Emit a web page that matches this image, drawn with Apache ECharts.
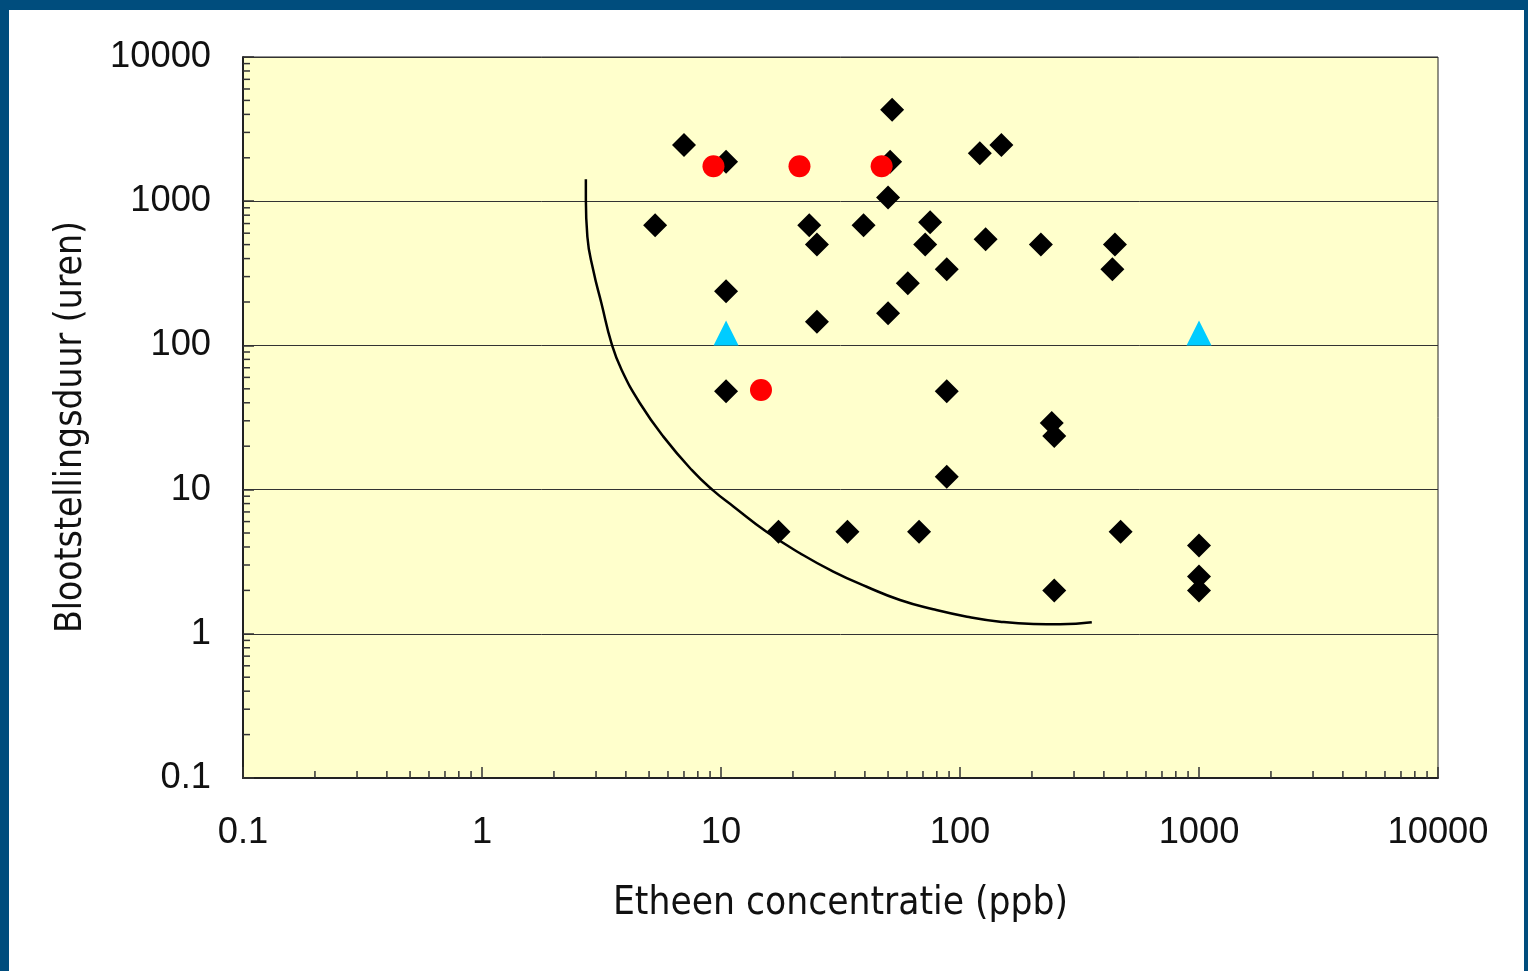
<!DOCTYPE html>
<html><head><meta charset="utf-8">
<script src="https://cdn.jsdelivr.net/npm/echarts@6/dist/echarts.min.js"></script>
<style>
html,body{margin:0;padding:0;background:#fff;}
#frame{position:absolute;left:0;top:0;width:1528px;height:971px;box-sizing:border-box;border-left:9px solid #004d7d;border-top:10px solid #004d7d;border-right:4px solid #004d7d;background:#fff;}
#chart{width:1515px;height:961px;}
</style></head><body>
<div id="frame"><div id="chart"></div></div>
<script>
// ---- data ----
const xTickLabels = ['0.1', '1', '10', '100', '1000', '10000'];
const yTickLabels = ['0.1', '1', '10', '100', '1000', '10000'];

const diamondX = [52, 7, 10.5, 51, 50, 121, 149, 5.3, 23.4, 25.2, 39.5, 75, 71.5, 88, 128, 60.5, 50, 10.5, 25.2, 218, 445, 434, 10.5, 88, 88, 17.4, 33.8, 67.4, 242, 248, 470, 1000, 1000, 1000, 248];
const diamondY = [4300, 2450, 1880, 1880, 1060, 2150, 2450, 680, 680, 500, 680, 715, 500, 337, 545, 270, 167, 237, 146, 500, 500, 337, 48, 48, 12.3, 5.1, 5.1, 5.1, 29, 23.5, 5.1, 4.1, 2.5, 2.0, 2.0];

const circleX = [9.3, 21.3, 47, 14.7];
const circleY = [1750, 1750, 1750, 49];

const triangleX = [10.5, 1000];
const triangleY = [122, 122];

const curveX = [2.72, 2.72, 2.76, 2.92, 3.16, 3.49, 3.84, 4.58, 5.74, 7.54, 9.29, 11.3, 15.5, 21.4, 29.5, 40.7, 56.1, 77.3, 107, 147, 203, 262, 356];
const curveY = [1418, 1019, 567, 333, 196, 102, 67.5, 39.7, 23.3, 13.7, 9.83, 7.61, 5.1, 3.62, 2.70, 2.12, 1.715, 1.479, 1.314, 1.213, 1.169, 1.164, 1.202];

// ---- helpers ----
function fitSize(text, fam, w) {
  const c = document.createElement('canvas').getContext('2d');
  c.font = '100px ' + fam;
  return Math.round(1000 * w / c.measureText(text).width) / 10;
}
const tickFam = "'Liberation Sans', Arial, sans-serif";
const titleFam = "'Liberation Sans Narrow', 'DejaVu Sans Condensed', 'Liberation Sans', sans-serif";
const tickSize = fitSize('10000', tickFam, 101);
const xTitle = 'Etheen concentratie (ppb)';
const yTitle = 'Blootstellingsduur (uren)';
const xTitleSize = fitSize(xTitle, titleFam, 455);
const yTitleSize = fitSize(yTitle, titleFam, 412);

const minorVals = [];
for (let e = -1; e < 4; e++) for (let m = 2; m <= 9; m++) minorVals.push(+(m * Math.pow(10, e)).toPrecision(3));

const zip = (a, b) => a.map((v, i) => [v, b[i]]);

const chart = echarts.init(document.getElementById('chart'), null, {renderer: 'canvas'});
const axisCommon = {
  type: 'log', logBase: 10, min: 0.1, max: 10000, splitNumber: 5,
  axisLine: {show: true, onZero: false, lineStyle: {color: '#222', width: 2}},
  axisTick: {show: true, inside: true, length: 11, lineStyle: {color: '#333', width: 1.5}},
  minorTick: {show: false},
  axisLabel: {color: '#111', fontFamily: tickFam, fontSize: tickSize, margin: 32},
  nameTextStyle: {color: '#111', fontFamily: titleFam}
};
chart.setOption({
  animation: false,
  backgroundColor: '#ffffff',
  grid: {left: 234, top: 47, right: 86, bottom: 193, show: true, backgroundColor: '#FFFFCC', borderColor: '#222', borderWidth: 1, containLabel: false, outerBoundsMode: 'none'},
  xAxis: Object.assign({}, axisCommon, {
    splitLine: {show: false},
    axisLabel: Object.assign({}, axisCommon.axisLabel, {margin: 37, formatter: (v, i) => xTickLabels[i]}),
    name: xTitle, nameLocation: 'middle', nameGap: 106,
    nameTextStyle: Object.assign({}, axisCommon.nameTextStyle, {fontSize: xTitleSize})
  }),
  yAxis: Object.assign({}, axisCommon, {
    splitLine: {show: true, lineStyle: {color: '#333', width: 1}},
    axisLabel: Object.assign({}, axisCommon.axisLabel, {padding: [4, 0, 0, 0], formatter: (v, i) => yTickLabels[i]}),
    name: yTitle, nameLocation: 'middle', nameGap: 153, nameRotate: 90,
    nameTextStyle: Object.assign({}, axisCommon.nameTextStyle, {fontSize: yTitleSize, padding: [0, 19, 0, 0]})
  }),
  series: [
    {
      type: 'custom', silent: true, clip: false, z: 4,
      data: minorVals.map(v => [v, 0.1]),
      renderItem: (p, api) => {
        const pt = api.coord([api.value(0), api.value(1)]);
        return {type: 'line', shape: {x1: pt[0], y1: pt[1], x2: pt[0], y2: pt[1] - 7}, style: {stroke: '#333', lineWidth: 1.5}};
      }
    },
    {
      type: 'custom', silent: true, clip: false, z: 4,
      data: minorVals.map(v => [0.1, v]),
      renderItem: (p, api) => {
        const pt = api.coord([api.value(0), api.value(1)]);
        return {type: 'line', shape: {x1: pt[0], y1: pt[1], x2: pt[0] + 7, y2: pt[1]}, style: {stroke: '#333', lineWidth: 1.5}};
      }
    },
    {
      name: 'diamonds', type: 'scatter', symbol: 'diamond', symbolSize: 24, z: 5,
      itemStyle: {color: '#000000', opacity: 1}, data: zip(diamondX, diamondY)
    },
    {
      name: 'circles', type: 'scatter', symbol: 'circle', symbolSize: 22, z: 6,
      itemStyle: {color: '#FF0000', opacity: 1}, data: zip(circleX, circleY)
    },
    {
      name: 'triangles', type: 'scatter', symbol: 'triangle', symbolSize: 25, z: 6,
      itemStyle: {color: '#00CCFF', opacity: 1}, data: zip(triangleX, triangleY)
    },
    {
      name: 'curve', type: 'line', smooth: 0.5, showSymbol: false, z: 7,
      lineStyle: {color: '#000', width: 2.5}, data: zip(curveX, curveY)
    }
  ]
});
</script>
</body></html>
